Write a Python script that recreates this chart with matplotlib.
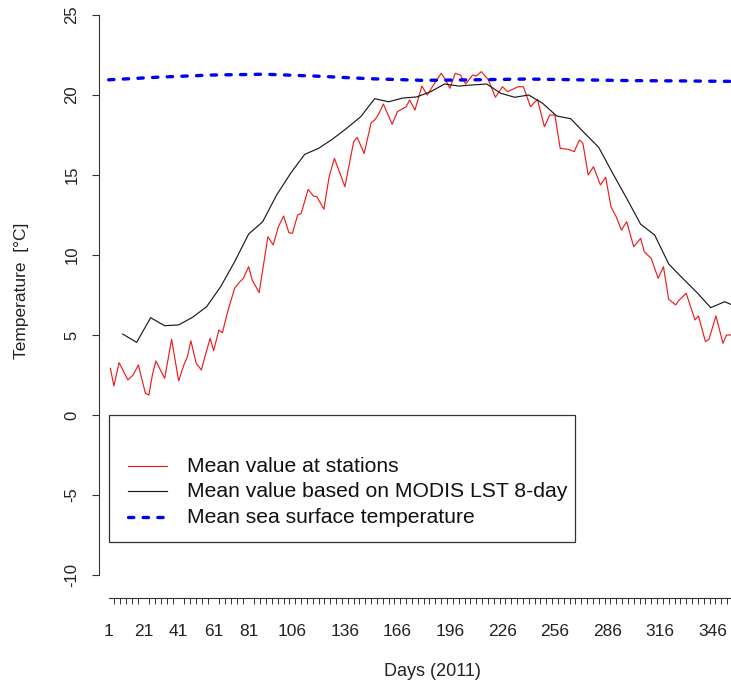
"""Daily mean temperature 2011: stations vs. MODIS LST 8-day vs. sea surface."""
import matplotlib

matplotlib.use("Agg")
import matplotlib.pyplot as plt
import numpy as np
from matplotlib.patches import Rectangle
from matplotlib.ticker import FixedLocator, NullFormatter

plt.rcParams["font.family"] = ["Liberation Sans", "DejaVu Sans"]

# mean air temperature at stations (day of year, degC)
station_days = [2, 4, 7, 12, 15, 18, 22, 24, 26, 28, 33, 37, 41, 44, 46, 48, 51, 54, 56, 59,
                61, 64, 66, 69, 73, 76, 78, 81, 83, 87, 92, 95, 98, 101, 104, 106, 109, 111,
                115, 118, 120, 124, 127, 130, 136, 141, 143, 147, 151, 153, 155, 158, 163,
                166, 171, 173, 176, 180, 183, 186, 191, 193, 196, 199, 202, 205, 209, 211,
                214, 218, 222, 226, 229, 233, 235, 238, 242, 246, 250, 253, 256, 259, 264,
                267, 270, 272, 275, 278, 282, 285, 288, 291, 294, 297, 301, 305, 307, 311,
                315, 318, 321, 325, 327, 331, 336, 338, 342, 344, 348, 352, 354, 357]
station_temp = [2.92, 1.81, 3.27, 2.19, 2.50, 3.13, 1.36, 1.25, 2.50, 3.38, 2.29, 4.73, 2.13,
                3.13, 3.64, 4.64, 3.23, 2.81, 3.64, 4.79, 4.02, 5.31, 5.14, 6.46, 7.92, 8.33,
                8.54, 9.27, 8.44, 7.65, 11.14, 10.63, 11.77, 12.44, 11.39, 11.36, 12.50, 12.60,
                14.10, 13.69, 13.64, 12.86, 14.90, 16.04, 14.27, 17.08, 17.35, 16.35, 18.27,
                18.44, 18.75, 19.44, 18.17, 18.96, 19.27, 19.69, 19.06, 20.56, 20.00, 20.52,
                21.36, 21.04, 20.42, 21.36, 21.25, 20.69, 21.25, 21.19, 21.46, 20.94, 19.86,
                20.52, 20.21, 20.42, 20.52, 20.52, 19.27, 19.73, 18.02, 18.75, 18.75, 16.67,
                16.60, 16.46, 17.19, 16.98, 15.00, 15.52, 14.38, 14.86, 13.02, 12.39, 11.56,
                12.08, 10.52, 11.04, 10.21, 9.79, 8.54, 9.27, 7.23, 6.88, 7.19, 7.61, 5.94,
                6.19, 4.58, 4.73, 6.19, 4.48, 5.00, 5.00]

# MODIS LST 8-day composites
modis_days = list(range(9, 362, 8))
modis_temp = [5.06, 4.54, 6.08, 5.58, 5.63, 6.11, 6.77, 8.02, 9.58, 11.31,
              12.08, 13.75, 15.11, 16.29, 16.67, 17.25, 17.92, 18.64, 19.77, 19.58,
              19.81, 19.88, 20.21, 20.69, 20.56, 20.63, 20.69, 20.11, 19.86, 20.00,
              19.48, 18.69, 18.52, 17.61, 16.73, 15.11, 13.54, 11.92, 11.25, 9.44,
              8.54, 7.67, 6.71, 7.08, 6.70]

# mean sea surface temperature
sst_days = [1, 30, 60, 90, 120, 150, 180, 210, 240, 270, 300, 330, 360]
sst_temp = [20.95, 21.12, 21.25, 21.30, 21.18, 21.02, 20.92, 20.95, 21.00, 20.95, 20.90,
            20.88, 20.85]

day_labels = [1, 21, 41, 61, 81, 106, 136, 166, 196, 226, 256, 286, 316, 346]
temp_ticks = [-10, -5, 0, 5, 10, 15, 20, 25]

legend_labels = ["Mean value at stations",
                 "Mean value based on MODIS LST 8-day",
                 "Mean sea surface temperature"]

W, H = 731, 684
fig = plt.figure(figsize=(W / 100, H / 100), dpi=100)
ax = fig.add_axes([99 / W, (H - 598) / H, (W - 99) / W, 598 / H])

red = "#ee1c1c"
black = "#1a1a1a"
blue = "#0000f0"
axis_col = "#333333"
sst_style = dict(color=blue, lw=2.4, linestyle=(0, (1.6, 2.8)), dash_capstyle="round")

ax.plot(station_days, station_temp, color=red, lw=0.85)
ax.plot(modis_days, modis_temp, color=black, lw=0.85)
ax.plot(sst_days, sst_temp, **sst_style)

ax.set_xlim(-4.5, 356.6)
ax.set_ylim(-11.44, 25.94)

# R-style detached axes
for side in ("top", "right"):
    ax.spines[side].set_visible(False)
ax.spines["left"].set_bounds(-10, 25)
ax.spines["bottom"].set_bounds(1, 356.6)
for side in ("left", "bottom"):
    ax.spines[side].set_color(axis_col)
    ax.spines[side].set_linewidth(0.8)

ax.set_yticks(temp_ticks)
ax.set_yticklabels([str(t) for t in temp_ticks], rotation=90, va="center")
ax.tick_params(axis="y", length=5, width=0.8, color=axis_col, labelsize=12, pad=9,
               labelcolor="#222222")

ax.set_xticks(day_labels)
ax.set_xticklabels([str(d) for d in day_labels])
ax.xaxis.set_minor_locator(FixedLocator(np.arange(1, 366, 10 / 3)))
ax.xaxis.set_minor_formatter(NullFormatter())
ax.tick_params(axis="x", which="major", length=0, labelsize=12.5, pad=18.5,
               labelcolor="#222222")
ax.tick_params(axis="x", which="minor", length=4.5, width=0.7, color=axis_col)

ax.set_xlabel("Days (2011)", fontsize=13, color="#222222")
ax.xaxis.set_label_coords((432 - 99) / (W - 99), -(672 - 598) / 598)
ax.xaxis.label.set_va("center")
ax.set_ylabel("Temperature  [\u00b0C]", fontsize=12.5, color="#222222")
ax.yaxis.set_label_coords(-(99 - 21.5) / (W - 99), (598 - 291) / 598)
ax.yaxis.label.set_va("center")

# legend box anchored at day 1, 0 degC
ax.add_patch(Rectangle((1, -7.96), 266.5, 7.96, fill=False, ec=axis_col, lw=0.9,
                       zorder=4))
row_y = [-3.19, -4.77, -6.39]
styles = [dict(color=red, lw=0.85), dict(color=black, lw=0.85), sst_style]
for y, label, style in zip(row_y, legend_labels, styles):
    ax.plot([12.2, 34.1], [y, y], zorder=5, **style)
    ax.text(45.6, y, label, fontsize=15.2, va="center", ha="left", color="#111111",
            zorder=5)

fig.savefig("out.png", dpi=100, facecolor="white")
